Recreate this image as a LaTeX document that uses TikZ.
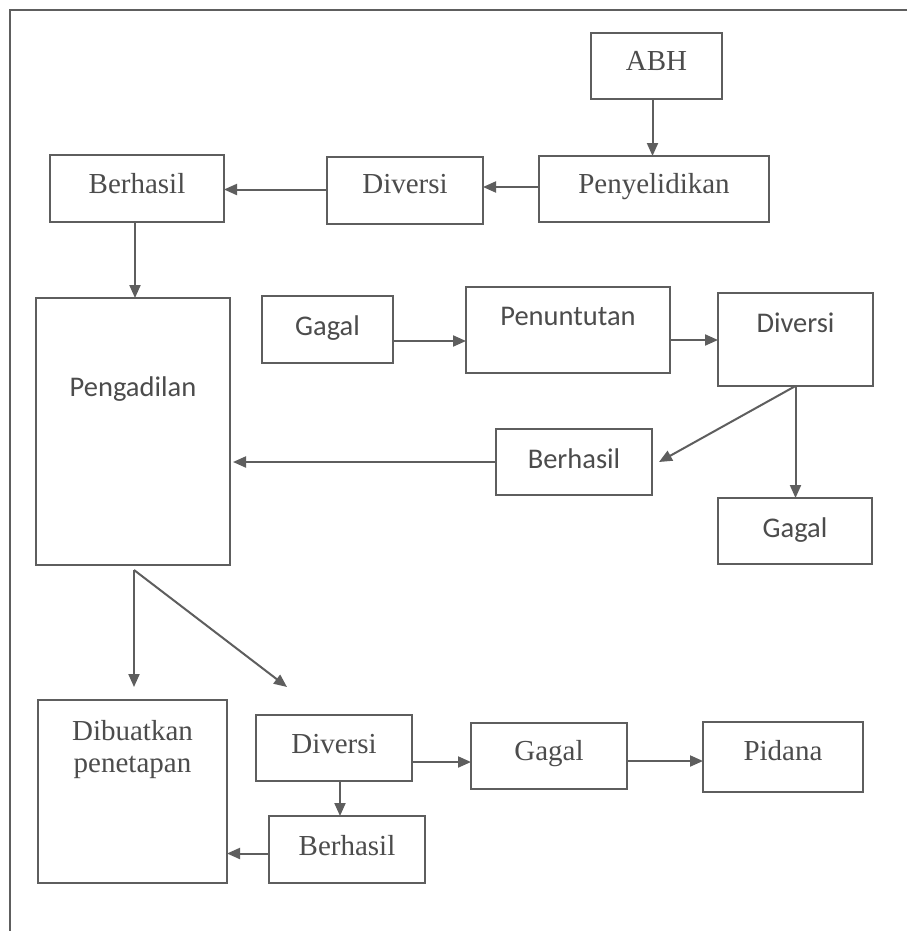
\documentclass[tikz,border=0pt]{standalone}
\usepackage{fontspec}
\setmainfont{Liberation Serif}
\newfontfamily\calib{Carlito}
\usetikzlibrary{arrows.meta}
\definecolor{lncol}{HTML}{5E5E5E}
\definecolor{txcol}{HTML}{4C4C4C}
\tikzset{
  box/.style={draw=lncol, line width=2pt, text=txcol, anchor=north west,
    inner xsep=0pt, inner ysep=0pt, outer sep=0pt,
    font=\fontsize{29}{32}\selectfont},
  sansbox/.style={box, font=\fontsize{28.5}{32}\selectfont\calib},
  arr/.style={draw=lncol, line width=2pt, -{Triangle[length=13pt,width=11pt]}},
  frame/.style={draw=lncol, line width=2pt}
}
\begin{document}
\begin{tikzpicture}[x=1pt,y=-1pt]
\useasboundingbox (0,0) rectangle (907,931);
\fill[white] (0,0) rectangle (907,931);
\coordinate (ftl) at (10,10);
\coordinate (ftr) at (907,10);
\coordinate (fbl) at (10,931);
\draw[frame] (ftr) -- (ftl) -- (fbl);

\node[box, minimum width=131pt, text height=38pt, text depth=28pt] (abh) at (591,33) {ABH};
\node[box, minimum width=230pt, text height=37pt, text depth=29pt] (pen) at (539,156) {Penyelidikan};
\node[box, minimum width=156pt, text height=36pt, text depth=31pt] (div1) at (327,157) {Diversi};
\node[box, minimum width=174pt, text height=38pt, text depth=29pt] (ber1) at (50,155) {Berhasil};
\node[sansbox, minimum width=194pt, text height=98pt, text depth=169pt] (peng) at (36,298) {Pengadilan};
\node[sansbox, minimum width=131pt, text height=39pt, text depth=28pt] (gag1) at (262,296) {Gagal};
\node[sansbox, minimum width=204pt, text height=38pt, text depth=48pt] (pnt) at (466,287) {Penuntutan};
\node[sansbox, minimum width=155pt, text height=39pt, text depth=54pt] (div2) at (718,293) {Diversi};
\node[sansbox, minimum width=156pt, text height=39pt, text depth=27pt] (ber2) at (496,429) {Berhasil};
\node[sansbox, minimum width=154pt, text height=39pt, text depth=27pt] (gag2) at (718,498) {Gagal};
\node[box, align=center, minimum width=189pt, text height=72pt, text depth=111pt] (dib) at (38,700) {Dibuatkan\\penetapan};
\node[box, minimum width=156pt, text height=38pt, text depth=28pt] (div3) at (256,715) {Diversi};
\node[box, minimum width=156pt, text height=37pt, text depth=29pt] (gag3) at (471,723) {Gagal};
\node[box, minimum width=160pt, text height=38pt, text depth=32pt] (pid) at (703,722) {Pidana};
\node[box, minimum width=156pt, text height=39pt, text depth=28pt] (ber3) at (269,816) {Berhasil};

% top row
\draw[arr] ([xshift=-4pt]abh.south) -- ([xshift=-4pt]abh.south |- pen.north);
\draw[arr] ([yshift=2pt]pen.west) -- ([yshift=2pt]pen.west -| div1.east);
\draw[arr] ([yshift=1pt]div1.west) -- ([yshift=1pt]div1.west -| ber1.east);
\draw[arr] ([xshift=-2pt]ber1.south) -- ([xshift=-2pt]ber1.south |- peng.north);
% middle
\draw[arr] ([yshift=-11.5pt]gag1.east) -- ([yshift=-11.5pt]gag1.east -| pnt.west);
\draw[arr] ([yshift=-10pt]pnt.east) -- ([yshift=-10pt]pnt.east -| div2.west);
\draw[arr] (div2.south) -- ([xshift=7pt]ber2.east);
\draw[arr] (div2.south) -- (div2.south |- gag2.north);
\draw[arr] (ber2.west) -- ([xshift=3pt]ber2.west -| peng.east);
% bottom
\coordinate (pbot) at ([xshift=1pt,yshift=-5pt]peng.south);
\draw[arr] (pbot) -- ([yshift=13pt]pbot |- dib.north);
\draw[arr] (pbot) -- ([xshift=-47pt,yshift=28pt]div3.north);
\draw[arr] ([yshift=-14pt]div3.east) -- ([yshift=-14pt]div3.east -| gag3.west);
\draw[arr] ([yshift=-5pt]gag3.east) -- ([yshift=-5pt]gag3.east -| pid.west);
\draw[arr] ([xshift=6pt]div3.south) -- ([xshift=6pt]div3.south |- ber3.north);
\draw[arr] ([yshift=-4pt]ber3.west) -- ([yshift=-4pt]ber3.west -| dib.east);
\end{tikzpicture}
\end{document}
